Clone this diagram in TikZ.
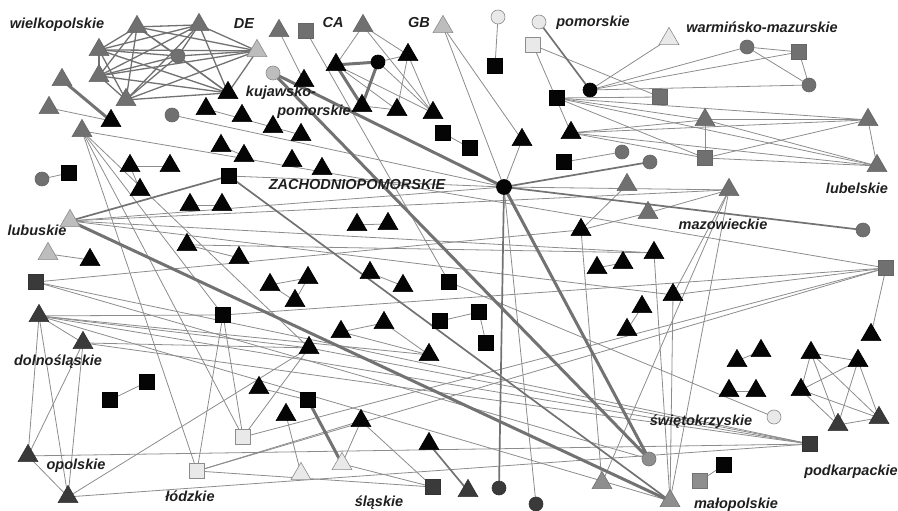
\documentclass[tikz,border=0pt]{standalone}
\usepackage{fontspec}
\setmainfont{Liberation Sans}
\usetikzlibrary{shapes.geometric}
\pgfdeclarelayer{bg}
\pgfsetlayers{bg,main}
\definecolor{cblack}{HTML}{050505}
\definecolor{cdark}{HTML}{3A3A3A}
\definecolor{cgray}{HTML}{707070}
\definecolor{cmid}{HTML}{8E8E8E}
\definecolor{clight}{HTML}{BDBDBD}
\definecolor{cwhite}{HTML}{E9E9E9}
\definecolor{ethin}{HTML}{8C8C8C}
\definecolor{emed}{HTML}{727272}
\tikzset{
  xtri/.style={regular polygon, regular polygon sides=3, minimum size=23pt, inner sep=0pt, yshift=-2.9pt, line width=0.6pt},
  xsqr/.style={rectangle, minimum size=15pt, inner sep=0pt, line width=0.6pt},
  xcir/.style={circle, minimum size=14pt, inner sep=0pt, line width=0.6pt},
  xtb/.style={xtri, fill=cblack, draw=black},
  xtd/.style={xtri, fill=cdark, draw=black!80},
  xtg/.style={xtri, fill=cgray, draw=black!60},
  xtm/.style={xtri, fill=cmid, draw=black!55},
  xtl/.style={xtri, fill=clight, draw=black!45},
  xtw/.style={xtri, fill=cwhite, draw=black!45},
  xsb/.style={xsqr, fill=cblack, draw=black},
  xsd/.style={xsqr, fill=cdark, draw=black!80},
  xsg/.style={xsqr, fill=cgray, draw=black!60},
  xsm/.style={xsqr, fill=cmid, draw=black!55},
  xsw/.style={xsqr, fill=cwhite, draw=black!45},
  xcb/.style={xcir, fill=cblack, draw=black},
  xcd/.style={xcir, fill=cdark, draw=black!80},
  xcg/.style={xcir, fill=cgray, draw=black!60},
  xcm/.style={xcir, fill=cmid, draw=black!55},
  xcl/.style={xcir, fill=clight, draw=black!45},
  xcw/.style={xcir, fill=cwhite, draw=black!45},
  xlab/.style={font=\fontsize{14.5}{16}\selectfont\bfseries\itshape, inner sep=0pt, text=black!88},
  eth/.style={draw=ethin, line width=0.8pt},
  eclq/.style={draw=emed, line width=1.3pt},
  emd/.style={draw=emed, line width=1.7pt},
  etk/.style={draw=emed, line width=3pt},
}
\begin{document}
\begin{tikzpicture}[x=1pt,y=-1pt]
\useasboundingbox (0,0) rectangle (898,511);
% ---- nodes: top left
\node[xtg] (w1) at (137,24) {};
\node[xtg] (w2) at (199,22) {};
\node[xtg] (w3) at (99,47) {};
\node[xcg] (wc) at (178,56) {};
\node[xtg] (w4) at (99,73) {};
\node[xtg] (w5) at (126,97) {};
\node[xtl] (de) at (257,48) {};
\node[xtb] (b1) at (228,90) {};
\node[xtg] (w6) at (62,77) {};
\node[xtg] (w7) at (49,105) {};
\node[xtg] (w8) at (82,128) {};
\node[xtb] (b2) at (111,118) {};
\node[xcg] (c1) at (172,115) {};
\node[xtb] (b3) at (206,106) {};
\node[xtb] (b4) at (221,143) {};
\node[xtb] (b5) at (130,163) {};
\node[xtb] (b6) at (170,163) {};
\node[xcg] (c2) at (42,179) {};
\node[xsb] (s1) at (69,173) {};
\node[xtb] (b7) at (140,187) {};
\node[xsb] (s2) at (229,176) {};
\node[xtb] (b8) at (190,202) {};
\node[xtb] (b9) at (222,202) {};
\node[xtl] (lu) at (70,218) {};
\node[xtl] (lu2) at (48,251) {};
\node[xtb] (b11) at (90,257) {};
\node[xtb] (b12) at (187,242) {};
\node[xsd] (sd1) at (36,282) {};
\node[xtd] (td1) at (39,313) {};
\node[xsb] (sb3) at (223,315) {};
\node[xtd] (td2) at (83,340) {};
\node[xsb] (s4) at (147,382) {};
\node[xsb] (s5) at (110,400) {};
\node[xtd] (td3) at (28,453) {};
\node[xtd] (td4) at (68,494) {};
\node[xsw] (sw1) at (197,471) {};
% ---- top middle
\node[xtg] (dt) at (279,28) {};
\node[xsg] (dsq) at (306,31) {};
\node[xtg] (ca) at (363,23) {};
\node[xtl] (gb) at (443,24) {};
\node[xcl] (cl1) at (273,73) {};
\node[xtb] (b13) at (304,78) {};
\node[xtb] (b14) at (336,62) {};
\node[xcb] (cb1) at (378,62) {};
\node[xtb] (b15) at (408,52) {};
\node[xtb] (b16) at (362,103) {};
\node[xtb] (b17) at (397,107) {};
\node[xtb] (b18) at (433,110) {};
\node[xtb] (b19) at (242,113) {};
\node[xtb] (b20) at (273,124) {};
\node[xtb] (b21) at (301,132) {};
\node[xtb] (b22) at (244,153) {};
\node[xtb] (b23) at (292,158) {};
\node[xtb] (b24) at (322,166) {};
\node[xsb] (s6) at (443,133) {};
\node[xsb] (s7) at (470,148) {};
% ---- top right
\node[xcw] (cw1) at (498,17) {};
\node[xsb] (s8) at (495,66) {};
\node[xcw] (cw2) at (539,22) {};
\node[xsw] (sw2) at (533,45) {};
\node[xcb] (cb2) at (590,90) {};
\node[xsb] (s9) at (557,98) {};
\node[xsg] (sg1) at (660,97) {};
\node[xtb] (b25) at (571,130) {};
\node[xtb] (b26) at (522,137) {};
\node[xsb] (s10) at (564,162) {};
\node[xcg] (cg1) at (622,152) {};
\node[xcg] (cg2) at (650,162) {};
\node[xtw] (tl2) at (669,36) {};
\node[xcg] (cg3) at (747,47) {};
\node[xsg] (sg2) at (799,52) {};
\node[xcg] (cg4) at (809,85) {};
\node[xtg] (tg5) at (705,117) {};
\node[xtg] (tg6) at (868,117) {};
\node[xsg] (sg3) at (705,158) {};
\node[xtg] (tg7) at (877,163) {};
% ---- middle
\node[xcb, minimum size=15pt] (hub) at (504,187) {};
\node[xtg] (tg8) at (627,182) {};
\node[xtg] (tg9) at (648,210) {};
\node[xtg] (maz) at (729,187) {};
\node[xcg] (cg5) at (863,230) {};
\node[xsg] (sg4) at (886,268) {};
\node[xtb] (b27) at (581,227) {};
\node[xtb] (b28) at (654,250) {};
\node[xtb] (b29) at (597,265) {};
\node[xtb] (b30) at (623,260) {};
\node[xtb] (b31) at (673,292) {};
\node[xtb] (b32) at (642,304) {};
\node[xtb] (b33) at (627,327) {};
\node[xtb] (b34) at (357,222) {};
\node[xtb] (b35) at (388,221) {};
\node[xtb] (b36) at (239,255) {};
\node[xtb] (b37) at (270,282) {};
\node[xtb] (b38) at (308,275) {};
\node[xtb] (b39) at (295,298) {};
\node[xtb] (b40) at (370,270) {};
\node[xtb] (b41) at (403,283) {};
\node[xsb] (s11) at (449,282) {};
\node[xsb] (s12) at (479,312) {};
\node[xsb] (s13) at (440,321) {};
\node[xsb] (s14) at (486,343) {};
\node[xtb] (b42) at (384,320) {};
\node[xtb] (b43) at (341,329) {};
\node[xtb] (b44) at (309,345) {};
\node[xtb] (b45) at (871,332) {};
% ---- bottom
\node[xtb] (b46) at (429,352) {};
\node[xtb] (b47) at (259,385) {};
\node[xsb] (s15) at (308,400) {};
\node[xtb] (b48) at (286,412) {};
\node[xtb] (b49) at (361,418) {};
\node[xsw] (sw3) at (243,437) {};
\node[xtb] (b50) at (429,441) {};
\node[xtw] (tw1) at (301,471) {};
\node[xtw] (tw2) at (342,461) {};
\node[xsd] (sd2) at (433,487) {};
\node[xtd] (td5) at (468,488) {};
\node[xcd] (cd1) at (499,488) {};
\node[xcd] (cd2) at (536,504) {};
\node[xtm] (tm1) at (602,480) {};
\node[xtm] (mal) at (670,498) {};
\node[xcm] (cg6) at (649,459) {};
\node[xtb] (b51) at (761,348) {};
\node[xtb] (b52) at (737,358) {};
\node[xtb] (b53) at (729,388) {};
\node[xtb] (b54) at (756,388) {};
\node[xcw] (cw3) at (774,417) {};
\node[xsd] (sd3) at (810,444) {};
\node[xsb] (s16) at (724,465) {};
\node[xsm] (sm1) at (700,481) {};
\node[xtb] (p1) at (811,350) {};
\node[xtb] (p2) at (858,358) {};
\node[xtb] (p3) at (801,387) {};
\node[xtd] (p4) at (838,422) {};
\node[xtd] (p5) at (879,415) {};
% ---- labels
\node[xlab] (l1) at (57,25) {wielkopolskie};
\node[xlab] (l2) at (244,24) {DE};
\node[xlab] (l3) at (333,23) {CA};
\node[xlab] (l4) at (419,23) {GB};
\node[xlab] (l5) at (593,23) {pomorskie};
\node[xlab] (l6) at (762,27) {warmińsko-mazurskie};
\node[xlab] (l7) at (281,93) {kujawsko-};
\node[xlab] (l8) at (314,112) {pomorskie};
\node[xlab] (l9) at (357,185) {ZACHODNIOPOMORSKIE};
\node[xlab] (l10) at (857,188) {lubelskie};
\node[xlab] (l11) at (723,224) {mazowieckie};
\node[xlab] (l12) at (37,230) {lubuskie};
\node[xlab] (l13) at (58,362) {dolnośląskie};
\node[xlab] (l14) at (76,466) {opolskie};
\node[xlab] (l15) at (190,496) {łódzkie};
\node[xlab] (l16) at (379,503) {śląskie};
\node[xlab] (l17) at (701,422) {świętokrzyskie};
\node[xlab] (l18) at (851,472) {podkarpackie};
\node[xlab] (l19) at (736,505) {małopolskie};
% ---- edges
\begin{pgfonlayer}{bg}
\foreach \a/\b in {w1/w2,w1/w3,w1/wc,w1/w4,w1/w5,w1/de,w1/b1,
  w2/w3,w2/wc,w2/w4,w2/w5,w2/de,w2/b1,
  w3/wc,w3/w4,w3/w5,w3/de,w3/b1,
  wc/w4,wc/w5,wc/de,wc/b1,
  w4/w5,w4/de,w4/b1,w5/de,w5/b1,de/b1}
  \draw[eclq] (\a.center) -- (\b.center);
\foreach \a/\b in {p1/p2,p1/p3,p1/p4,p1/p5,p2/p3,p2/p4,p2/p5,p3/p4,p3/p5,p4/p5}
  \draw[eth] (\a.center) -- (\b.center);
\foreach \a/\b in {w7/b2,w8/sw1,w8/sw3,w8/sb3,w8/b44,w8/sg4,c1/hub,b3/b21,b4/b22,
  b5/b6,b5/b7,b8/b9,c2/s1,lu/hub,lu/maz,lu/b28,lu/b31,lu2/b11,
  sd1/b27,sd1/cg6,sd1/sd3,td1/sd3,td2/sd3,td3/sd3,td4/sd3,
  td1/td2,td1/td3,td1/td4,td2/td3,td2/td4,td3/td4,td1/sb3,td1/b44,td2/b44,td4/b44,td1/mal,td1/b46,
  s4/s5,sw1/sb3,sw3/sb3,sw1/sg4,sw3/sg4,sw3/b44,sw1/b49,sw1/sd2,sb3/sg4,s2/hub,b12/b36,b12/b28,
  dt/b13,dsq/s11,ca/b14,ca/b15,ca/b18,b14/b18,b14/b17,b15/b18,b15/b17,cb1/b15,cb1/b18,b16/b17,
  hub/cd2,gb/hub,gb/b26,b26/hub,hub/maz,s6/s7,cw1/s8,sw2/b25,sw2/sg1,s9/sg1,
  cb2/tl2,cb2/cg3,cb2/sg2,cb2/cg4,
  s9/tg5,s9/tg6,s9/sg3,s9/tg7,b25/tg5,b25/tg6,b25/sg3,b25/tg7,
  tg5/sg3,tg5/tg6,sg3/tg6,sg3/tg7,tg6/tg7,tg5/tg7,cg3/sg2,cg3/cg4,sg2/cg4,s10/cg1,
  tg8/b27,tg9/b27,tg9/maz,maz/b31,maz/tm1,maz/mal,b31/sg4,b31/mal,b28/mal,b27/tm1,
  b29/b30,b32/b33,s11/cw3,b45/sg4,b44/sd3,
  b34/b35,b37/b38,b38/b39,b37/b39,b40/b41,b43/b42,b42/b46,b43/b46,s13/s12,s12/s14,
  b47/s15,b49/tw2,b48/tw1,tw2/sd2,b49/sd2,sm1/s16,b52/b51,b53/b54}
  \draw[eth] (\a.center) -- (\b.center);
\foreach \a/\b in {lu/s2,hub/cd1,hub/cg2,hub/cg5,cw2/cb2,s2/mal,b50/td5}
  \draw[emd] (\a.center) -- (\b.center);
\foreach \a/\b in {w6/b2,lu/mal,cl1/hub,cl1/cg6,hub/cg6,b14/cb1,cb1/b16,b14/b16,s15/tw2}
  \draw[etk] (\a.center) -- (\b.center);
\end{pgfonlayer}
\end{tikzpicture}
\end{document}
